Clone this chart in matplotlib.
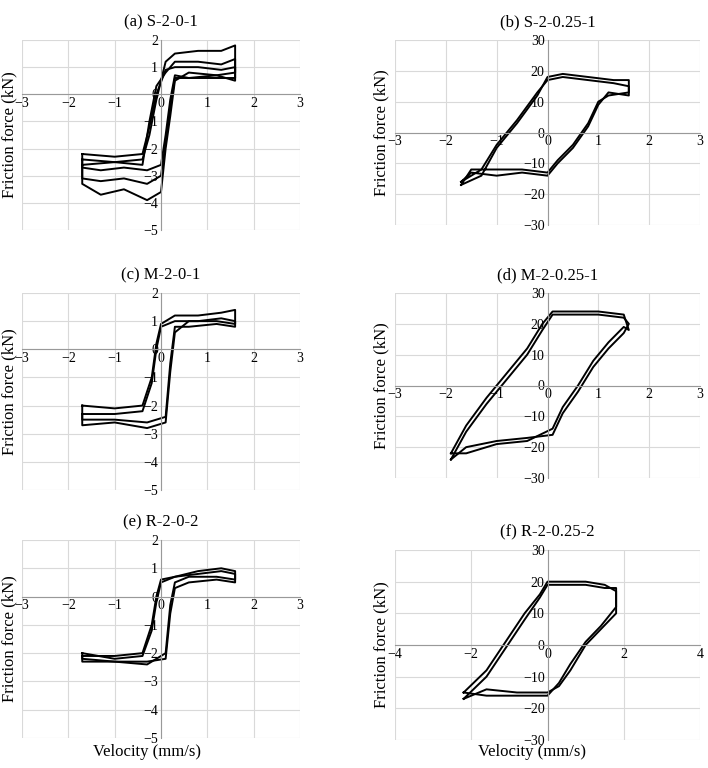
import matplotlib
matplotlib.use("Agg")
import matplotlib.pyplot as plt

plt.rcParams['font.family'] = ['Liberation Serif', 'DejaVu Serif']

# panel (a) S-2-0-1
a_v = [-1.7, -1.0, -0.4, -0.25, -0.1, 0.1, 0.3, 0.8, 1.3, 1.6,
       1.6, 1.2, 0.6, 0.3, 0.2, 0.1, 0.0, -0.3, -0.8, -1.3, -1.7, -1.7]
a_f = [
    [-2.2, -2.3, -2.2, -1.2, 0.0, 0.9, 1.0, 1.0, 0.9, 1.0,
     0.6, 0.6, 0.6, 0.6, -0.5, -1.8, -3.0, -3.3, -3.1, -3.2, -3.1, -2.2],
    [-2.6, -2.5, -2.4, -1.5, -0.2, 1.2, 1.5, 1.6, 1.6, 1.8,
     0.8, 0.7, 0.8, 0.5, -0.8, -2.0, -3.6, -3.9, -3.5, -3.7, -3.3, -2.6],
    [-2.4, -2.5, -2.6, -1.0, 0.3, 0.8, 1.2, 1.2, 1.1, 1.3,
     0.5, 0.7, 0.6, 0.7, -0.2, -1.5, -2.6, -2.8, -2.7, -2.8, -2.7, -2.4],
]

# panel (b) S-2-0.25-1
b_v = [-1.7, -1.3, -1.0, -0.6, -0.2, 0.0, 0.3, 0.8, 1.3, 1.6,
       1.6, 1.2, 1.0, 0.8, 0.5, 0.2, 0.0, -0.5, -1.0, -1.5, -1.7]
b_f = [
    [-17, -14, -5, 3, 12, 18, 19, 18, 17, 17,
     13, 12, 10, 3, -4, -9, -13, -12, -12, -12, -17],
    [-16, -12, -4, 4, 13, 17, 18, 17, 16, 15,
     12, 13, 9, 2, -5, -10, -14, -13, -14, -13, -16],
]

# panel (c) M-2-0-1 and (e) R-2-0-2 share velocity path
c_v = [-1.7, -1.0, -0.4, -0.2, -0.1, 0.0, 0.3, 0.8, 1.3, 1.6,
       1.6, 1.2, 0.6, 0.3, 0.2, 0.1, -0.3, -1.0, -1.7, -1.7]
c_f = [
    [-2.3, -2.3, -2.2, -1.2, 0.0, 0.8, 1.0, 1.0, 1.1, 1.0,
     0.8, 0.9, 0.8, 0.8, -0.5, -2.4, -2.6, -2.5, -2.5, -2.3],
    [-2.0, -2.1, -2.0, -1.0, 0.2, 0.9, 1.2, 1.2, 1.3, 1.4,
     0.9, 1.0, 1.0, 0.6, -0.8, -2.6, -2.8, -2.6, -2.7, -2.0],
]
e_f = [
    [-2.1, -2.1, -2.0, -1.0, 0.0, 0.6, 0.7, 0.8, 0.9, 0.8,
     0.5, 0.6, 0.5, 0.3, -0.6, -2.2, -2.3, -2.3, -2.2, -2.1],
    [-2.0, -2.2, -2.1, -1.2, -0.2, 0.5, 0.7, 0.9, 1.0, 0.9,
     0.6, 0.7, 0.7, 0.5, -0.3, -2.0, -2.4, -2.3, -2.3, -2.0],
]

# panel (d) M-2-0.25-1
d_v = [-1.9, -1.6, -1.2, -0.8, -0.4, -0.1, 0.1, 0.5, 1.0, 1.5, 1.6,
       1.5, 1.2, 0.9, 0.6, 0.3, 0.1, -0.4, -1.0, -1.6, -1.9]
d_f = [
    [-24, -15, -6, 2, 10, 18, 23, 23, 23, 22, 20,
     17, 12, 6, -2, -9, -16, -17, -18, -20, -24],
    [-22, -13, -4, 4, 12, 20, 24, 24, 24, 23, 18,
     19, 14, 8, 0, -7, -14, -18, -19, -22, -22],
]

# panel (f) R-2-0.25-2
f_v = [-2.2, -1.6, -1.1, -0.6, -0.2, 0.0, 0.5, 1.0, 1.5, 1.8,
       1.8, 1.4, 1.0, 0.6, 0.3, 0.0, -0.8, -1.6, -2.2]
f_f = [
    [-17, -10, -1, 8, 15, 19, 19, 19, 18, 18,
     10, 5, 0, -8, -13, -15, -15, -14, -17],
    [-15, -8, 1, 10, 16, 20, 20, 20, 19, 17,
     12, 6, 1, -6, -12, -16, -16, -16, -15],
]

titles = ["(a) S-2-0-1", "(b) S-2-0.25-1", "(c) M-2-0-1",
          "(d) M-2-0.25-1", "(e) R-2-0-2", "(f) R-2-0.25-2"]

panels = [
    (a_v, a_f, (-3, 3), (-5, 2), range(-3, 4), range(-5, 3)),
    (b_v, b_f, (-3, 3), (-30, 30), range(-3, 4), range(-30, 31, 10)),
    (c_v, c_f, (-3, 3), (-5, 2), range(-3, 4), range(-5, 3)),
    (d_v, d_f, (-3, 3), (-30, 30), range(-3, 4), range(-30, 31, 10)),
    (c_v, e_f, (-3, 3), (-5, 2), range(-3, 4), range(-5, 3)),
    (f_v, f_f, (-4, 4), (-30, 30), range(-4, 5, 2), range(-30, 31, 10)),
]

W, H = 708, 768
boxes = [
    (22, 40, 300, 230), (395, 40, 700, 225),
    (22, 293, 300, 490), (395, 293, 700, 478),
    (22, 540, 300, 738), (395, 550, 700, 740),
]

fig = plt.figure(figsize=(7.08, 7.68), dpi=100)
for i, (v, fs, xl, yl, xt, yt) in enumerate(panels):
    x0, y0, x1, y1 = boxes[i]
    ax = fig.add_axes([x0 / W, 1 - y1 / H, (x1 - x0) / W, (y1 - y0) / H])
    for f in fs:
        ax.plot(v, f, color='black', lw=1.4)
    ax.set_xlim(*xl)
    ax.set_ylim(*yl)
    ax.set_xticks(list(xt))
    ax.set_yticks(list(yt))
    ax.grid(True, color='#d9d9d9', lw=0.8)
    ax.set_axisbelow(True)
    ax.spines['left'].set_position('zero')
    ax.spines['bottom'].set_position('zero')
    ax.spines['top'].set_visible(False)
    ax.spines['right'].set_visible(False)
    for s in ('left', 'bottom'):
        ax.spines[s].set_color('#999999')
    ax.tick_params(length=0, labelsize=10, pad=2)
    ax.set_title(titles[i], fontsize=12, pad=10)
    ax.text(-0.045, 0.5, "Friction force (kN)",
            rotation=90, transform=ax.transAxes, ha='center', va='center', fontsize=12)
    if i >= 4:
        fig.text((x0 + 0.45 * (x1 - x0)) / W, 1 - 752 / H, "Velocity (mm/s)",
                 ha='center', va='center', fontsize=12)

fig.savefig("out.png", dpi=100)
